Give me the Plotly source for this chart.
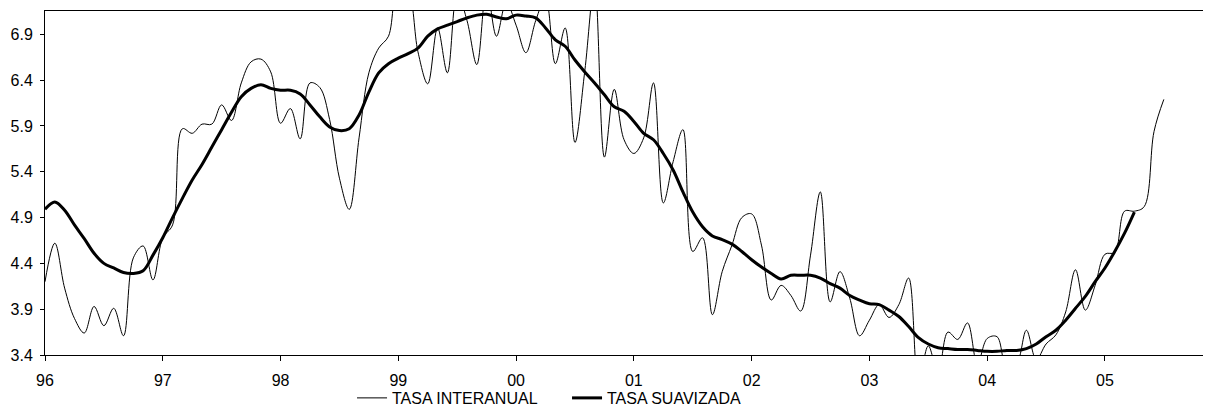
import plotly.graph_objects as go

# Months counted from January 1996 (0 = Jan 96)
tasa_interanual = [
    4.20, 4.62, 4.13, 3.80, 3.64, 3.93, 3.72, 3.91, 3.61, 4.46, 4.59, 4.22,   # 96
    4.68, 4.82, 5.87, 5.82, 5.92, 5.92, 6.13, 5.96, 6.37, 6.60, 6.63, 6.49,   # 97
    5.93, 6.09, 5.76, 6.37, 6.32, 5.97, 5.33, 4.99, 5.77, 6.48, 6.75, 6.88,   # 98
    7.50, 7.40, 6.71, 6.36, 6.97, 6.48, 7.35, 7.05, 6.57, 7.40, 6.88, 7.25,   # 99
    7.00, 6.70, 7.05, 7.30, 6.58, 6.97, 5.72, 6.50, 7.45, 5.56, 6.30, 5.75,   # 00
    5.60, 5.77, 6.37, 5.06, 5.51, 5.86, 4.53, 4.68, 3.84, 4.31, 4.60, 4.90,   # 01
    4.94, 4.60, 4.00, 4.16, 4.05, 3.88, 4.49, 5.18, 3.98, 4.31, 4.02, 3.61,   # 02
    3.78, 3.95, 3.81, 3.95, 4.24, 3.10, 3.50, 3.20, 3.65, 3.57, 3.75, 3.30,   # 03
    3.58, 3.60, 3.25, 3.30, 3.67, 3.35, 3.52, 3.62, 3.87, 4.33, 3.89, 4.16,   # 04
    4.50, 4.52, 4.97, 4.97, 5.02, 5.84, 6.19,                                 # 05
]

tasa_suavizada = [
    4.99, 5.07, 4.98, 4.82, 4.67, 4.51, 4.40, 4.35, 4.30, 4.29, 4.32, 4.49,   # 96
    4.68, 4.90, 5.11, 5.31, 5.48, 5.67, 5.86, 6.05, 6.22, 6.31, 6.35, 6.31,   # 97
    6.29, 6.29, 6.25, 6.13, 6.00, 5.89, 5.85, 5.87, 6.02, 6.27, 6.48, 6.58,   # 98
    6.64, 6.69, 6.75, 6.88, 6.96, 7.00, 7.04, 7.08, 7.11, 7.12, 7.09, 7.07,   # 99
    7.11, 7.10, 7.08, 6.97, 6.84, 6.77, 6.62, 6.49, 6.37, 6.24, 6.11, 6.06,   # 00
    5.95, 5.82, 5.75, 5.60, 5.42, 5.18, 4.96, 4.80, 4.70, 4.66, 4.61, 4.53,   # 01
    4.44, 4.36, 4.29, 4.23, 4.27, 4.27, 4.27, 4.24, 4.18, 4.13, 4.05, 4.00,   # 02
    3.96, 3.95, 3.89, 3.82, 3.71, 3.59, 3.52, 3.48, 3.47, 3.46, 3.46, 3.45,   # 03
    3.44, 3.44, 3.45, 3.45, 3.47, 3.52, 3.60, 3.67, 3.78, 3.91, 4.04, 4.20,   # 04
    4.35, 4.53, 4.73, 4.96,                                                   # 05
]

year_labels = ["96", "97", "98", "99", "00", "01", "02", "03", "04", "05"]
year_ticks = [12 * i for i in range(len(year_labels))]
y_ticks = [3.4, 3.9, 4.4, 4.9, 5.4, 5.9, 6.4, 6.9]

months_a = list(range(len(tasa_interanual)))
months_b = list(range(len(tasa_suavizada)))

fig = go.Figure()
fig.add_trace(go.Scatter(
    x=months_a, y=tasa_interanual, mode="lines", name="TASA INTERANUAL",
    line=dict(color="black", width=1, shape="spline", smoothing=1.0),
))
fig.add_trace(go.Scatter(
    x=months_b, y=tasa_suavizada, mode="lines", name="TASA SUAVIZADA",
    line=dict(color="black", width=3, shape="spline", smoothing=1.0),
))

font = dict(family="Liberation Sans, Arial, sans-serif", size=16, color="black")

# the page body adds an 8px margin, so the figure is sized to fit the window
fig.update_layout(
    width=1203, height=399,
    margin=dict(l=37, r=3, t=3, b=52, autoexpand=False),
    paper_bgcolor="white", plot_bgcolor="white",
    font=font,
    showlegend=True,
    legend=dict(
        orientation="h", x=0.264, xanchor="left",
        yref="container", y=0.0226, yanchor="middle",
        font=font, bgcolor="rgba(0,0,0,0)", borderwidth=0,
        entrywidth=170, entrywidthmode="pixels",
        tracegroupgap=0, itemwidth=30,
    ),
    xaxis=dict(
        range=[0, 118.5], tickmode="array", tickvals=year_ticks, ticktext=year_labels,
        showgrid=False, zeroline=False, showline=True, linecolor="black", linewidth=1,
        mirror=True, ticks="outside", ticklen=5, tickcolor="black", tickwidth=1,
        tickfont=font, ticklabelstandoff=6, automargin=False,
    ),
    yaxis=dict(
        range=[3.4, 7.155], tickmode="array", tickvals=y_ticks,
        ticktext=[f"{v:.1f}" for v in y_ticks],
        showgrid=False, zeroline=False, showline=True, linecolor="black", linewidth=1,
        ticks="outside", ticklen=4, tickcolor="black", tickwidth=1,
        tickfont=font, ticklabelstandoff=4, automargin=False,
    ),
)

fig.write_html("out.html")
